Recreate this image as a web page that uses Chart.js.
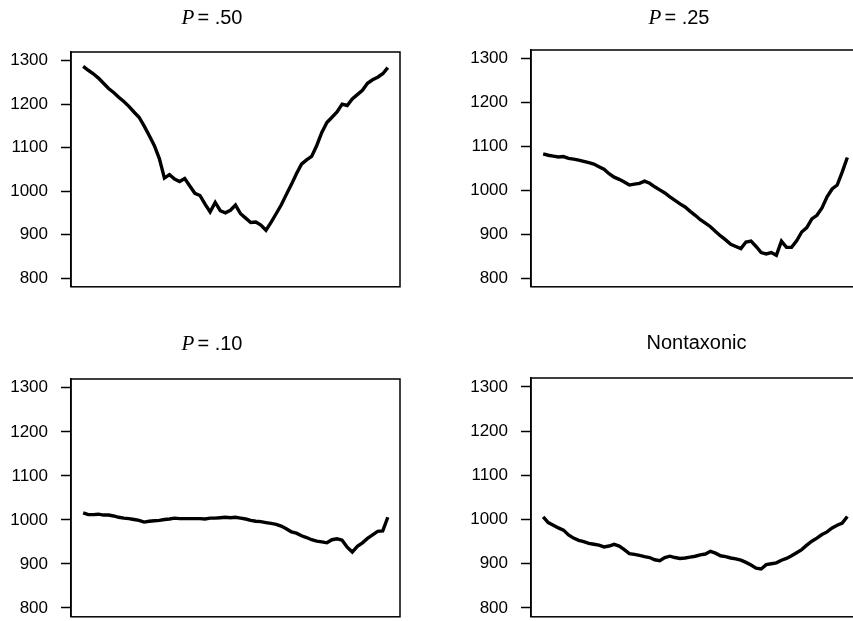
<!DOCTYPE html>
<html>
<head>
<meta charset="utf-8">
<script src="https://cdn.jsdelivr.net/npm/chart.js@4/dist/chart.umd.min.js"></script>
<style>
  body { margin: 0; width: 853px; height: 621px; overflow: hidden; background: #fff; position: relative; }
  canvas { position: absolute; }
</style>
</head>
<body>
<canvas id="c1" width="430" height="310" style="left:0;top:0"></canvas>
<canvas id="c2" width="440" height="310" style="left:430px;top:0"></canvas>
<canvas id="c3" width="430" height="330" style="left:0;top:310px"></canvas>
<canvas id="c4" width="440" height="330" style="left:430px;top:310px"></canvas>
<script>
// panel titles
const titles = [['P', '= .50'], ['P', '= .25'], ['P', '= .10'], ['', 'Nontaxonic']];
const yTicks = [800, 900, 1000, 1100, 1200, 1300];

// values, 61 points each
const p50 = [1287, 1278, 1270, 1260, 1248, 1236, 1227, 1216, 1206, 1195,
  1182, 1170, 1150, 1128, 1105, 1075, 1030, 1038, 1028, 1022,
  1029, 1012, 995, 990, 970, 952, 974, 955, 950, 956,
  968, 948, 938, 928, 929, 922, 910, 928, 948, 968,
  992, 1015, 1040, 1062, 1072, 1080, 1105, 1135, 1158, 1170,
  1182, 1200, 1197, 1212, 1222, 1232, 1248, 1256, 1262, 1270, 1284];

const p25 = [1083, 1080, 1078, 1076, 1077, 1073, 1071, 1069, 1066, 1063,
  1060, 1054, 1048, 1038, 1030, 1025, 1019, 1012, 1014, 1016,
  1021, 1016, 1008, 1001, 994, 985, 977, 969, 962, 952,
  943, 933, 925, 917, 906, 896, 887, 877, 872, 867,
  882, 884, 872, 858, 855, 858, 852, 884, 870, 870,
  885, 905, 915, 935, 943, 960, 985, 1003, 1012, 1042, 1075];

const p10 = [1016, 1012, 1012, 1013, 1011, 1011, 1009, 1006, 1004, 1003,
  1001, 999, 995, 997, 998, 999, 1001, 1002, 1004, 1003,
  1003, 1003, 1003, 1003, 1002, 1004, 1004, 1005, 1006, 1005,
  1006, 1004, 1002, 999, 997, 996, 994, 992, 990, 986,
  980, 973, 970, 964, 960, 955, 952, 950, 948, 955,
  957, 954, 938, 927, 940, 948, 958, 966, 974, 975, 1006];

const nontax = [1006, 993, 987, 981, 976, 965, 958, 953, 950, 946,
  944, 942, 938, 940, 944, 940, 932, 923, 921, 919,
  916, 914, 909, 907, 914, 917, 914, 912, 913, 915,
  917, 920, 922, 928, 924, 918, 916, 913, 911, 908,
  903, 897, 890, 888, 898, 900, 902, 908, 912, 918,
  925, 932, 942, 951, 958, 966, 972, 981, 987, 992, 1007];

const steps = p50.map((_, i) => i);

// frame round the plot region plus the mixed-font title
const framePlugin = {
  id: 'frame',
  afterDraw(chart, args, opts) {
    const ctx = chart.ctx, a = chart.chartArea;
    ctx.save();
    ctx.strokeStyle = '#000';
    ctx.lineWidth = 1.5;
    ctx.strokeRect(a.left, a.top, a.right - a.left, a.bottom - a.top);
    ctx.fillStyle = '#000';
    ctx.textBaseline = 'alphabetic';
    const serif = 'italic 21px "Liberation Serif", "DejaVu Serif", serif';
    const sans = '20px "Liberation Sans", Arial, sans-serif';
    ctx.font = serif;
    const w1 = opts.text[0] ? ctx.measureText(opts.text[0]).width + 3 : 0;
    ctx.font = sans;
    const w2 = ctx.measureText(opts.text[1]).width;
    let x = opts.cx - (w1 + w2) / 2;
    if (opts.text[0]) {
      ctx.font = serif;
      ctx.fillText(opts.text[0], x, opts.cy);
      x += w1;
    }
    ctx.font = sans;
    ctx.fillText(opts.text[1], x, opts.cy);
    ctx.restore();
  }
};

function makeChart(id, values, title, pad, titlePos) {
  return new Chart(document.getElementById(id), {
    type: 'line',
    data: {
      labels: steps,
      datasets: [{
        data: values,
        borderColor: '#000',
        borderWidth: 3.4,
        pointRadius: 0,
        tension: 0,
        fill: false
      }]
    },
    options: {
      responsive: false,
      animation: false,
      layout: { padding: pad },
      plugins: {
        legend: { display: false },
        tooltip: { enabled: false },
        frame: { text: title, cx: titlePos[0], cy: titlePos[1] }
      },
      scales: {
        x: { type: 'linear', min: -2.4, max: 62.4, display: false },
        y: {
          min: 780,
          max: 1320,
          afterFit: s => { s.width = 60; },
          afterBuildTicks: s => { s.ticks = yTicks.map(v => ({ value: v })); },
          border: { display: true, color: '#000', width: 1.5 },
          grid: { drawOnChartArea: false, drawTicks: true, tickLength: 10, tickColor: '#000', tickWidth: 1.5 },
          ticks: {
            color: '#000',
            padding: 13,
            callback: v => String(v),
            font: { family: '"Liberation Sans", Arial, sans-serif', size: 17 }
          }
        }
      }
    },
    plugins: [framePlugin]
  });
}

makeChart('c1', p50, titles[0], { left: 11, right: 30, top: 52, bottom: 17 }, [212, 24]);
makeChart('c2', p25, titles[1], { left: 41, right: 10.5, top: 50, bottom: 19 }, [249, 24]);
makeChart('c3', p10, titles[2], { left: 11, right: 30, top: 69, bottom: 20 }, [212, 40]);
makeChart('c4', nontax, titles[3], { left: 41, right: 10.5, top: 68, bottom: 21 }, [266.5, 39]);
</script>
</body>
</html>
